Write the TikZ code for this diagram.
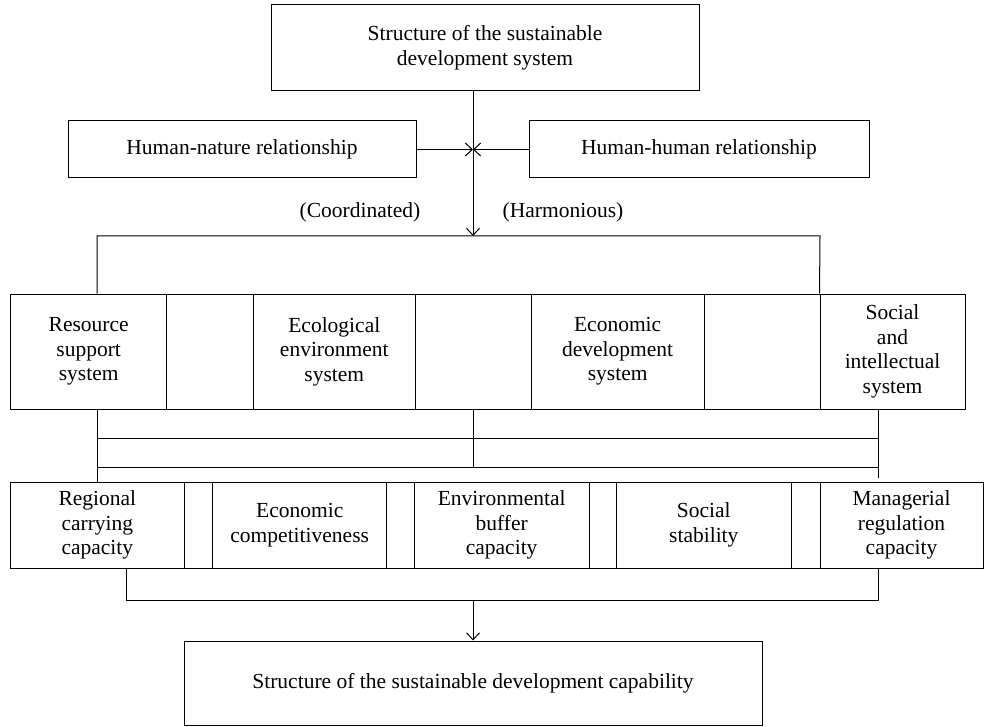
\documentclass[tikz,border=0pt]{standalone}
\usepackage{fontspec}
\setmainfont{Liberation Serif}
\usetikzlibrary{arrows.meta}
\begin{document}
\begin{tikzpicture}[x=1pt,y=-1pt,
  every path/.style={line width=1pt},
  cell/.style={draw, line width=1pt, inner sep=0pt, align=center,
    font=\fontsize{21.5}{24.5}\selectfont},
  lbl/.style={inner sep=0pt, font=\fontsize{21.5}{24.5}\selectfont},
  arr/.style={-{Straight Barb[length=7pt,width=13pt]}, line width=1pt}]
\useasboundingbox (0,0) rectangle (984,727);
% top
\node[cell, minimum width=428pt, minimum height=86pt] (top) at (485,48) {Structure of the sustainable\\development system};
\node[cell, minimum width=348pt, minimum height=57pt] (hn) at (242,149.5) {Human-nature relationship};
\node[cell, minimum width=340pt, minimum height=57pt] (hh) at (699,149.5) {Human-human relationship};
\coordinate (j) at (473,149.5);
\coordinate (bt) at (473,236);
\coordinate (bl) at (97,236);
\coordinate (br) at (820,236);
\draw[arr] (top.south -| j) -- (bt);
\draw[arr] (hn.east) -- (j);
\draw[arr] (hh.west) -- (j);
\node[lbl] (co) at (360,212) {(Coordinated)};
\node[lbl] (ha) at (563,212) {(Harmonious)};
% row 2
\node[cell, minimum width=156pt, minimum height=115pt] (r1) at (88.7,351.5) {Resource\\support\\system};
\node[cell, minimum width=86.6pt, minimum height=115pt] (r2) at (210,351.5) {};
\node[cell, minimum width=162pt, minimum height=115pt] (r3) at (334.3,351.5) {Ecological\\environment\\system};
\node[cell, minimum width=115.7pt, minimum height=115pt] (r4) at (473.15,351.5) {};
\node[cell, minimum width=173.3pt, minimum height=115pt] (r5) at (617.65,351.5) {Economic\\development\\system};
\node[cell, minimum width=115.7pt, minimum height=115pt] (r6) at (762.15,351.5) {};
\node[cell, minimum width=145pt, minimum height=115pt] (r7) at (892.5,351.5) {Social\\and\\intellectual\\system};
\draw (r1.north -| bl) -- (bl) -- (br) -- (r7.north west);
% row 3
\node[cell, minimum width=173.3pt, minimum height=86pt] (s1) at (97.35,525) {Regional\\carrying\\capacity};
\node[cell, minimum width=28.7pt, minimum height=86pt] (s2) at (198.35,525) {};
\node[cell, minimum width=174pt, minimum height=86pt] (s3) at (299.7,525) {Economic\\competitiveness};
\node[cell, minimum width=27.6pt, minimum height=86pt] (s4) at (400.5,525) {};
\node[cell, minimum width=174.7pt, minimum height=86pt] (s5) at (501.65,525) {Environmental\\buffer\\capacity};
\node[cell, minimum width=27.3pt, minimum height=86pt] (s6) at (602.65,525) {};
\node[cell, minimum width=175pt, minimum height=86pt] (s7) at (703.8,525) {Social\\stability};
\node[cell, minimum width=28.7pt, minimum height=86pt] (s8) at (805.65,525) {};
\node[cell, minimum width=163pt, minimum height=86pt] (s9) at (901.5,525) {Managerial\\regulation\\capacity};
% connectors between rows 2 and 3
\coordinate (ml) at (97,438);
\coordinate (mr) at (878,438);
\coordinate (nl) at (97,467);
\coordinate (nr) at (878,467);
\draw (r1.south -| ml) -- (s1.north -| ml);
\draw (r4.south) -- (r4.south |- nl);
\draw (r7.south -| mr) -- ([yshift=4pt]s9.north -| mr);
\draw (ml) -- (mr);
\draw (nl) -- (nr);
% bottom
\node[cell, minimum width=578pt, minimum height=84pt] (bot) at (473,683) {Structure of the sustainable development capability};
\coordinate (ql) at (126,600);
\coordinate (qr) at (878,600);
\coordinate (qm) at (473,600);
\draw (s1.south -| ql) -- (ql) -- (qr) -- (s9.south -| qr);
\draw[arr] (qm) -- (bot.north -| qm);
\end{tikzpicture}
\end{document}
